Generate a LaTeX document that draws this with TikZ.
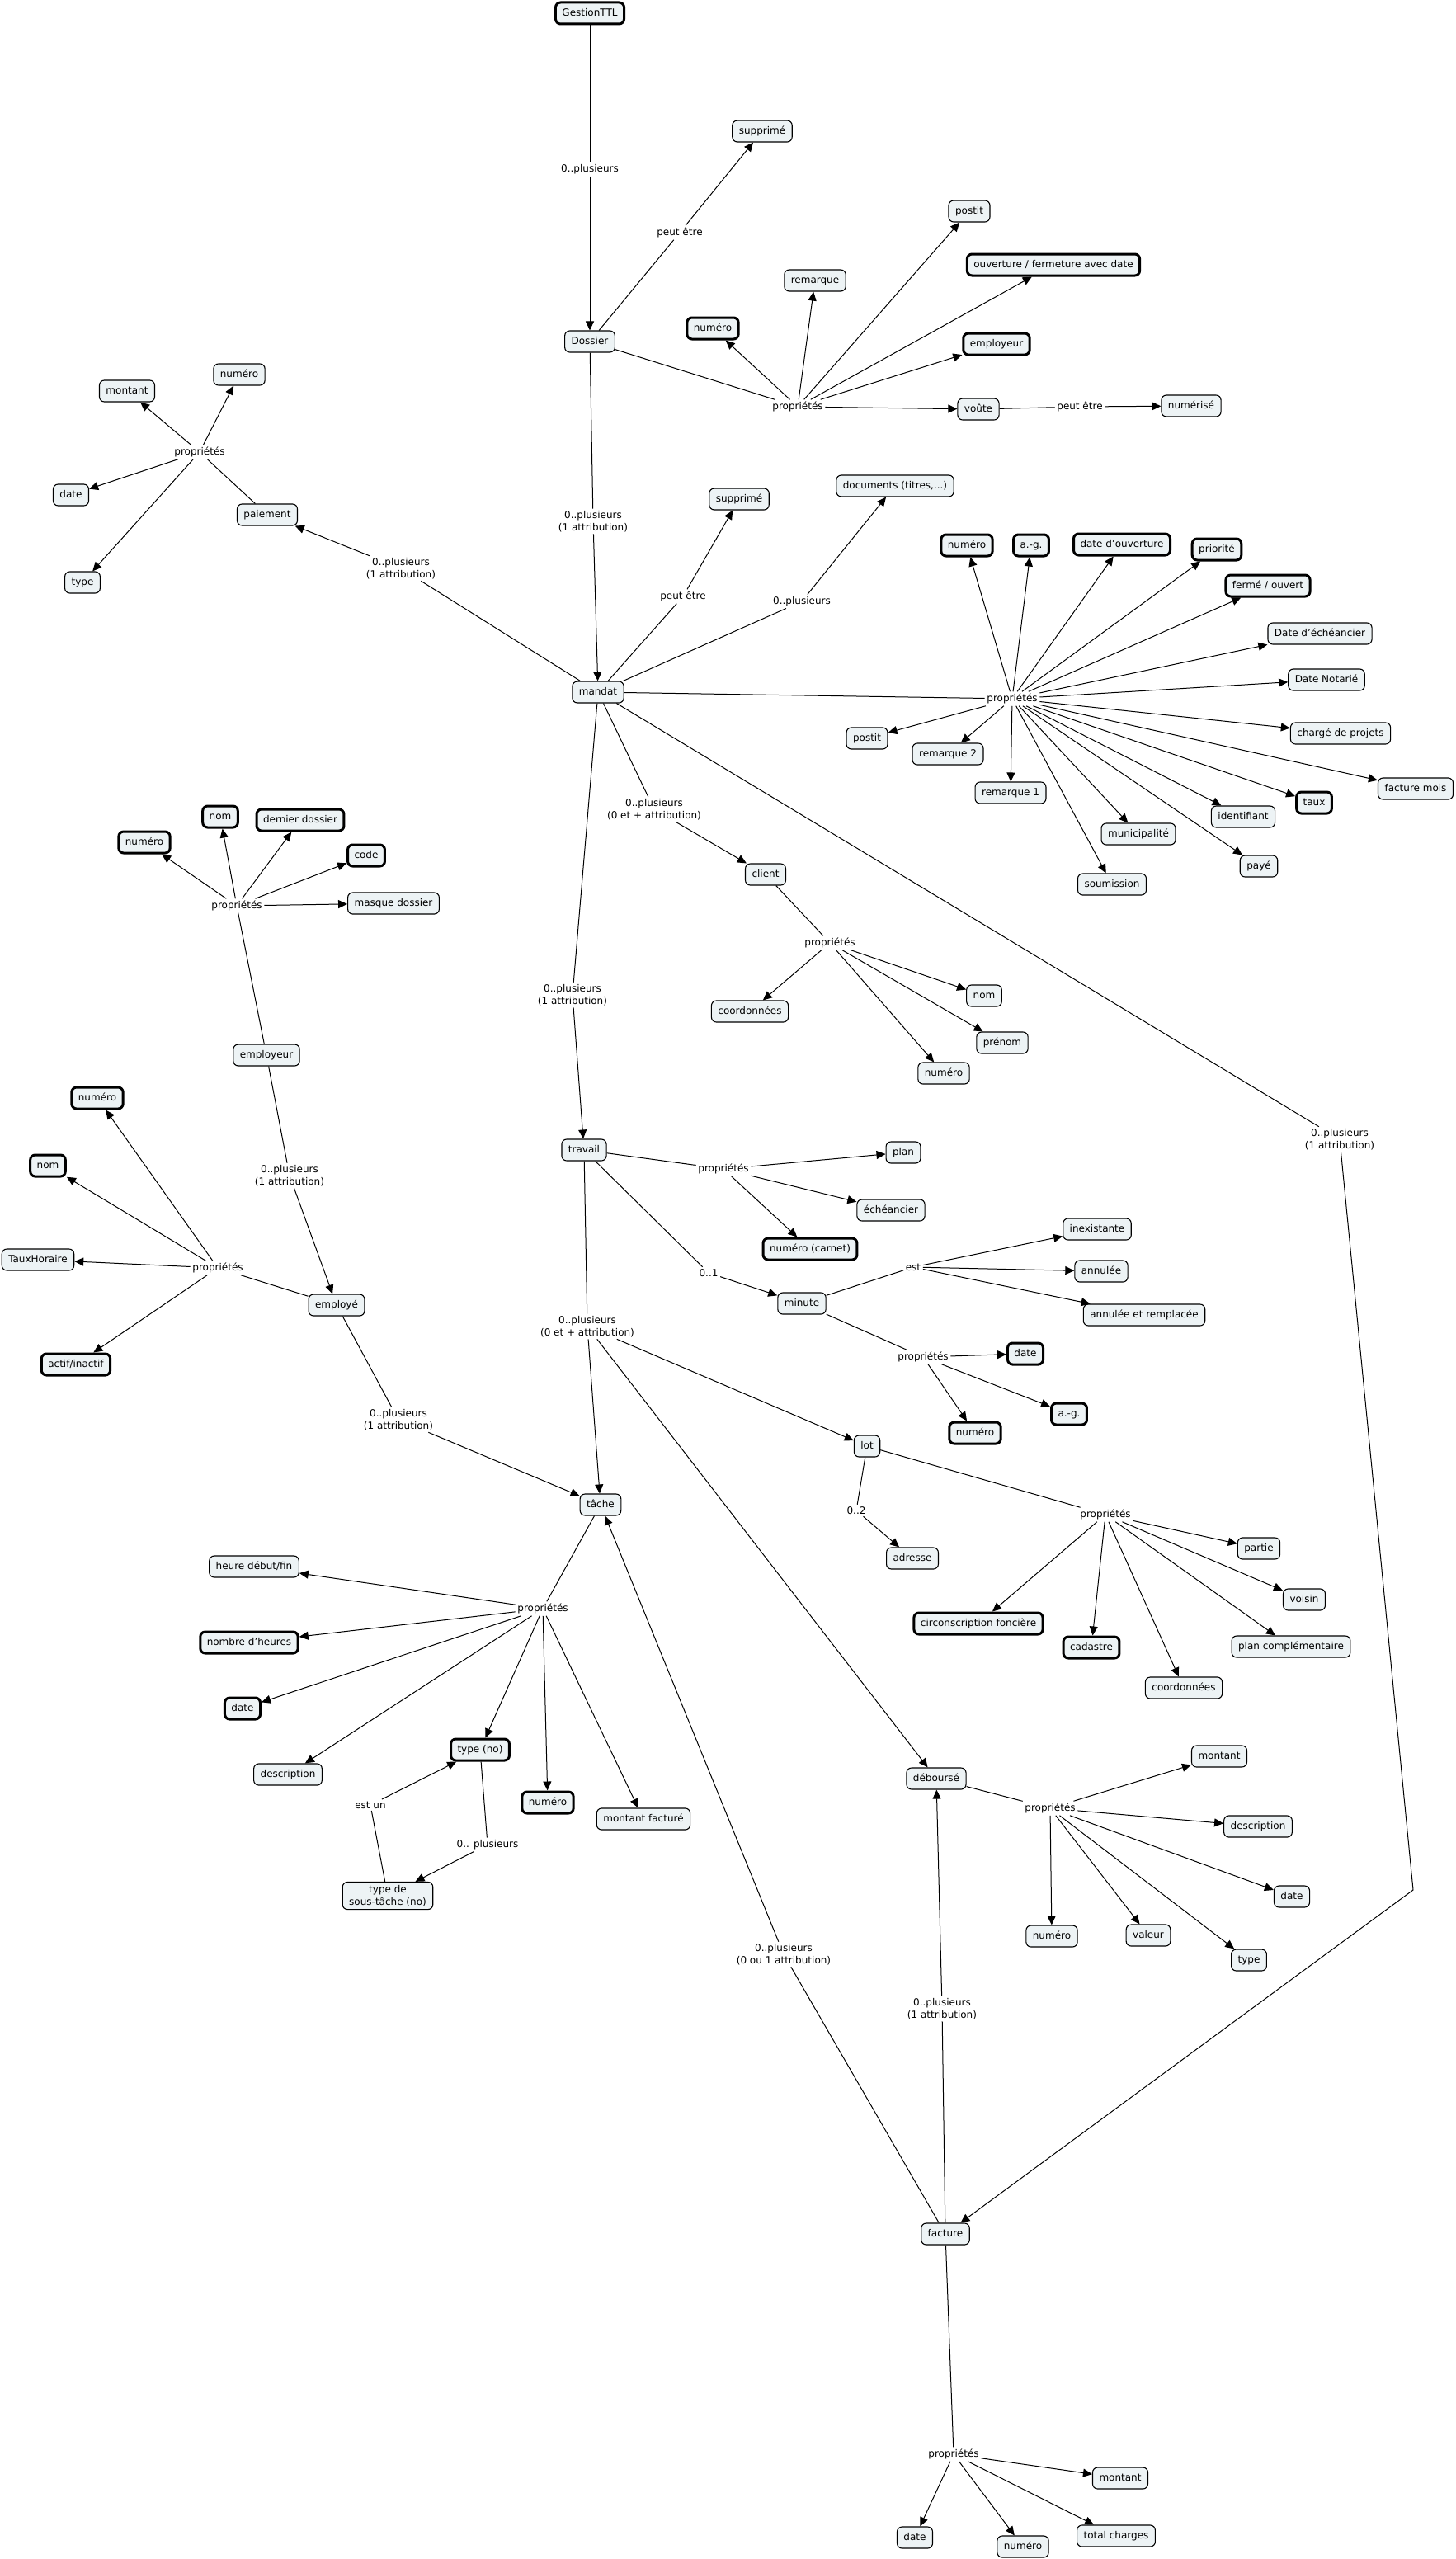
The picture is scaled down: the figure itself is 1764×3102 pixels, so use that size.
\documentclass[tikz,border=0pt]{standalone}
\usepackage{fontspec}
\setmainfont{DejaVu Sans}
\usetikzlibrary{arrows.meta}
\definecolor{cfill}{RGB}{237,243,245}
\begin{document}
\begin{tikzpicture}[x=1pt,y=-1pt,
 cbase/.style={draw, rounded corners=6pt, fill=cfill, line width=1.1pt, inner xsep=8pt, inner ysep=4pt, minimum height=26pt, font=\fontsize{12}{14.5}\selectfont},
 cpt/.style={cbase, text height=9pt, text depth=2.5pt},
 kcpt/.style={cpt, line width=3pt},
 lab/.style={inner sep=2.5pt, align=center, font=\fontsize{12}{14.5}\selectfont},
 arr/.style={-{Triangle[length=11pt,width=10pt]}, line width=1pt},
 ln/.style={line width=1pt}]
\useasboundingbox (0,0) rectangle (1764,3102);

% ---------- Dossier ----------
\node[kcpt] (g) at (715,16) {GestionTTL};
\node[lab] (l1) at (715,205) {0..plusieurs};
\node[cpt] (dos) at (715,414) {Dossier};
\node[lab] (l2) at (824,282) {peut être};
\node[cpt] (sup1) at (924,159) {supprimé};
\node[lab] (dp) at (967,493) {propriétés};
\node[kcpt] (dnum) at (864,398) {numéro};
\node[cpt] (drem) at (988,340) {remarque};
\node[cpt] (dpost) at (1175,256) {postit};
\node[kcpt] (douv) at (1277,321) {ouverture / fermeture avec date};
\node[kcpt] (demp) at (1208,417) {employeur};
\node[cpt] (dvou) at (1186,496) {voûte};
\node[lab] (l3) at (1309,493) {peut être};
\node[cpt] (dnumz) at (1444,492) {numérisé};

% ---------- mandat ----------
\node[lab] (l4) at (719,632) {0..plusieurs\\(1 attribution)};
\node[cpt] (man) at (725,839) {mandat};
\node[lab] (l5) at (828,723) {peut être};
\node[cpt] (sup2) at (896,605) {supprimé};
\node[lab] (l6) at (972,729) {0..plusieurs};
\node[cpt] (doc) at (1085,589) {documents (titres,...)};
\node[lab] (mp) at (1227,847) {propriétés};
\node[kcpt] (mnum) at (1172,661) {numéro};
\node[kcpt] (mag) at (1250,661) {a.-g.};
\node[kcpt] (mdo) at (1360,660) {date d'ouverture};
\node[kcpt] (mpri) at (1475,666) {priorité};
\node[kcpt] (mfo) at (1537,710) {fermé / ouvert};
\node[cpt] (mde) at (1600,768) {Date d'échéancier};
\node[cpt] (mdn) at (1608,824) {Date Notarié};
\node[cpt] (mcp) at (1625,889) {chargé de projets};
\node[cpt] (mfm) at (1716,956) {facture mois};
\node[kcpt] (mtx) at (1593,973) {taux};
\node[cpt] (mid) at (1507,990) {identifiant};
\node[cpt] (mpy) at (1526,1050) {payé};
\node[cpt] (mmu) at (1380,1011) {municipalité};
\node[cpt] (mso) at (1348,1072) {soumission};
\node[cpt] (mr1) at (1225,961) {remarque 1};
\node[cpt] (mr2) at (1149,914) {remarque 2};
\node[cpt] (mpo) at (1051,895) {postit};

% ---------- paiement ----------
\node[lab] (l7) at (486,689) {0..plusieurs\\(1 attribution)};
\node[cpt] (pai) at (324,624) {paiement};
\node[lab] (pp) at (242,548) {propriétés};
\node[cpt] (pmon) at (154,474) {montant};
\node[cpt] (pnum) at (290,454) {numéro};
\node[cpt] (pdat) at (86,600) {date};
\node[cpt] (ptyp) at (100,706) {type};

% ---------- client ----------
\node[lab] (l8) at (793,981) {0..plusieurs\\(0 et + attribution)};
\node[cpt] (cli) at (928,1060) {client};
\node[lab] (cp) at (1006,1143) {propriétés};
\node[cpt] (cnom) at (1193,1207) {nom};
\node[cpt] (ccoo) at (909,1226) {coordonnées};
\node[cpt] (cpre) at (1215,1264) {prénom};
\node[cpt] (cnum) at (1144,1301) {numéro};

% ---------- travail ----------
\node[lab] (l9) at (694,1206) {0..plusieurs\\(1 attribution)};
\node[cpt] (tra) at (708,1394) {travail};
\node[lab] (tp) at (877,1417) {propriétés};
\node[cpt] (tplan) at (1095,1397) {plan};
\node[cpt] (tech) at (1080,1467) {échéancier};
\node[kcpt] (tnc) at (982,1514) {numéro (carnet)};
\node[lab] (l10) at (859,1543) {0..1};
\node[cpt] (min) at (972,1580) {minute};
\node[lab] (est) at (1107,1536) {est};
\node[cpt] (mine) at (1330,1490) {inexistante};
\node[cpt] (mina) at (1335,1541) {annulée};
\node[cpt] (minar) at (1387,1594) {annulée et remplacée};
\node[lab] (minp) at (1119,1645) {propriétés};
\node[kcpt] (mind) at (1243,1641) {date};
\node[kcpt] (minag) at (1296,1714) {a.-g.};
\node[kcpt] (minn) at (1182,1737) {numéro};

% ---------- lot ----------
\node[lab] (l11) at (712,1608) {0..plusieurs\\(0 et + attribution)};
\node[cpt] (lot) at (1051,1753) {lot};
\node[lab] (l12) at (1038,1831) {0..2};
\node[cpt] (adr) at (1106,1889) {adresse};
\node[lab] (lp) at (1340,1836) {propriétés};
\node[cpt] (lpar) at (1526,1877) {partie};
\node[cpt] (lvoi) at (1581,1939) {voisin};
\node[kcpt] (lcf) at (1186,1968) {circonscription foncière};
\node[cpt] (lpc) at (1565,1996) {plan complémentaire};
\node[kcpt] (lcad) at (1323,1997) {cadastre};
\node[cpt] (lcoo) at (1435,2046) {coordonnées};

% ---------- tâche ----------
\node[cpt] (tac) at (728,1824) {tâche};
\node[lab] (tap) at (658,1950) {propriétés};
\node[cpt] (thdf) at (308,1899) {heure début/fin};
\node[kcpt] (tnh) at (302,1991) {nombre d'heures};
\node[kcpt] (tdat) at (294,2071) {date};
\node[kcpt] (ttyp) at (582,2121) {type (no)};
\node[cpt] (tdes) at (349,2151) {description};
\node[kcpt] (tnum) at (664,2185) {numéro};
\node[cpt] (tmf) at (780,2205) {montant facturé};
\node[lab] (l13) at (449,2188) {est un};
\node[lab] (l14) at (591,2236) {0.. plusieurs};
\node[cbase, align=center] (tst) at (470,2298) {type de\\sous-tâche (no)};

% ---------- déboursé ----------
\node[cpt] (deb) at (1135,2156) {déboursé};
\node[lab] (dbp) at (1273,2192) {propriétés};
\node[cpt] (dbmon) at (1478,2129) {montant};
\node[cpt] (dbdes) at (1525,2214) {description};
\node[cpt] (dbdat) at (1566,2299) {date};
\node[cpt] (dbnum) at (1275,2347) {numéro};
\node[cpt] (dbval) at (1392,2346) {valeur};
\node[cpt] (dbtyp) at (1514,2376) {type};

% ---------- facture ----------
\node[lab] (l15) at (950,2369) {0..plusieurs\\(0 ou 1 attribution)};
\node[lab] (l16) at (1142,2435) {0..plusieurs\\(1 attribution)};
\node[cpt] (fac) at (1146,2708) {facture};
\node[lab] (fp) at (1156,2975) {propriétés};
\node[cpt] (fmon) at (1358,3004) {montant};
\node[cpt] (ftc) at (1353,3074) {total charges};
\node[cpt] (fdat) at (1109,3076) {date};
\node[cpt] (fnum) at (1240,3087) {numéro};
\node[lab] (l17) at (1624,1381) {0..plusieurs\\(1 attribution)};
\coordinate (bend) at (1713,2291);

% ---------- employeur / employé ----------
\node[lab] (ep) at (287,1098) {propriétés};
\node[kcpt] (enom) at (267,990) {nom};
\node[kcpt] (edd) at (364,994) {dernier dossier};
\node[kcpt] (enum) at (175,1021) {numéro};
\node[kcpt] (ecode) at (444,1037) {code};
\node[cpt] (emd) at (477,1095) {masque dossier};
\node[cpt] (emp) at (323,1279) {employeur};
\node[lab] (l18) at (351,1425) {0..plusieurs\\(1 attribution)};
\node[cpt] (emy) at (408,1582) {employé};
\node[lab] (eyp) at (264,1537) {propriétés};
\node[kcpt] (eynum) at (118,1331) {numéro};
\node[kcpt] (eynom) at (58,1413) {nom};
\node[cpt] (eyth) at (46,1527) {TauxHoraire};
\node[kcpt] (eyai) at (92,1654) {actif/inactif};
\node[lab] (l19) at (483,1721) {0..plusieurs\\(1 attribution)};

% ---------- connectors ----------
\draw[ln] (g) -- (l1); \draw[arr] (l1) -- (dos);
\draw[ln] (dos) -- (l2); \draw[arr] (l2) -- (sup1);
\draw[ln] (dos) -- (dp);
\foreach \t in {dnum,drem,dpost,douv,demp,dvou} \draw[arr] (dp) -- (\t);
\draw[ln] (dvou) -- (l3); \draw[arr] (l3) -- (dnumz);
\draw[ln] (dos) -- (l4); \draw[arr] (l4) -- (man);
\draw[ln] (man) -- (l5); \draw[arr] (l5) -- (sup2);
\draw[ln] (man) -- (l6); \draw[arr] (l6) -- (doc);
\draw[ln] (man) -- (mp);
\foreach \t in {mnum,mag,mdo,mpri,mfo,mde,mdn,mcp,mfm,mtx,mid,mpy,mmu,mso,mr1,mr2,mpo} \draw[arr] (mp) -- (\t);
\draw[ln] (man) -- (l7); \draw[arr] (l7) -- (pai);
\draw[ln] (pai) -- (pp);
\foreach \t in {pmon,pnum,pdat,ptyp} \draw[arr] (pp) -- (\t);
\draw[ln] (man) -- (l8); \draw[arr] (l8) -- (cli);
\draw[ln] (cli) -- (cp);
\foreach \t in {cnom,ccoo,cpre,cnum} \draw[arr] (cp) -- (\t);
\draw[ln] (man) -- (l9); \draw[arr] (l9) -- (tra);
\draw[ln] (tra) -- (tp);
\foreach \t in {tplan,tech,tnc} \draw[arr] (tp) -- (\t);
\draw[ln] (tra) -- (l10); \draw[arr] (l10) -- (min);
\draw[ln] (min) -- (est);
\foreach \t in {mine,mina,minar} \draw[arr] (est) -- (\t);
\draw[ln] (min) -- (minp);
\foreach \t in {mind,minag,minn} \draw[arr] (minp) -- (\t);
\draw[ln] (tra) -- (l11);
\foreach \t in {tac,lot,deb} \draw[arr] (l11) -- (\t);
\draw[ln] (lot) -- (l12); \draw[arr] (l12) -- (adr);
\draw[ln] (lot) -- (lp);
\foreach \t in {lpar,lvoi,lcf,lpc,lcad,lcoo} \draw[arr] (lp) -- (\t);
\draw[ln] (tac) -- (tap);
\foreach \t in {thdf,tnh,tdat,ttyp,tdes,tnum,tmf} \draw[arr] (tap) -- (\t);
\draw[ln] (ttyp) -- (l14); \draw[arr] (l14) -- (tst);
\draw[ln] (tst) -- (l13); \draw[arr] (l13) -- (ttyp);
\draw[ln] (deb) -- (dbp);
\foreach \t in {dbmon,dbdes,dbdat,dbnum,dbval,dbtyp} \draw[arr] (dbp) -- (\t);
\draw[ln] (fac) -- (l15); \draw[arr] (l15) -- (tac);
\draw[ln] (fac) -- (l16); \draw[arr] (l16) -- (deb);
\draw[ln] (fac) -- (fp);
\foreach \t in {fmon,ftc,fdat,fnum} \draw[arr] (fp) -- (\t);
\draw[ln] (man) -- (l17);
\draw[arr] (l17) -- (bend) -- (fac);
\draw[ln] (emp) -- (ep);
\foreach \t in {enom,edd,enum,ecode,emd} \draw[arr] (ep) -- (\t);
\draw[ln] (emp) -- (l18); \draw[arr] (l18) -- (emy);
\draw[ln] (emy) -- (eyp);
\foreach \t in {eynum,eynom,eyth,eyai} \draw[arr] (eyp) -- (\t);
\draw[ln] (emy) -- (l19); \draw[arr] (l19) -- (tac);
\end{tikzpicture}
\end{document}
